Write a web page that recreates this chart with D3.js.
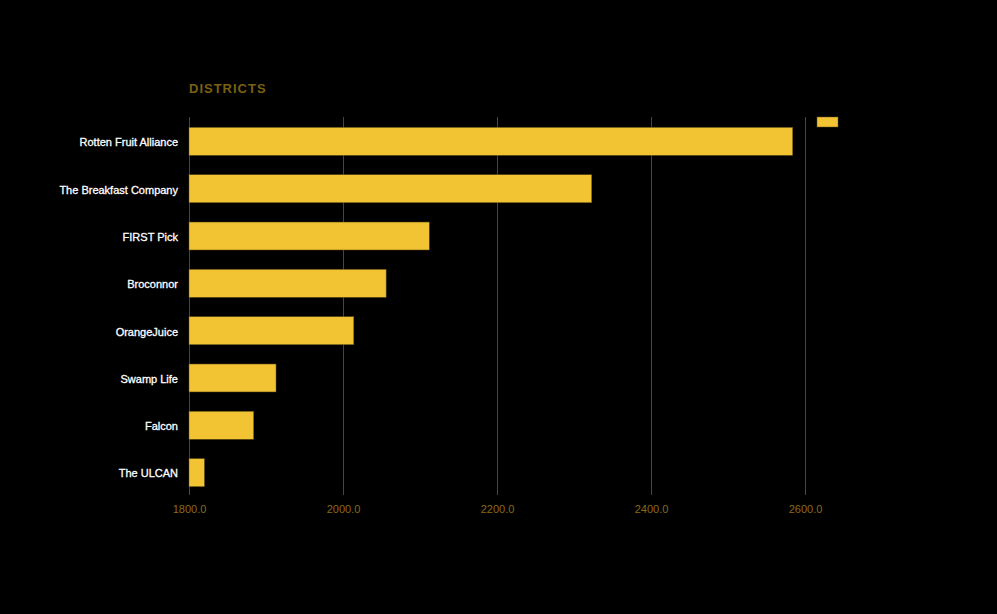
<!DOCTYPE html>
<html>
<head>
<meta charset="utf-8">
<script src="https://cdnjs.cloudflare.com/ajax/libs/d3/7.8.5/d3.min.js"></script>
<style>
  body { margin: 0; background: #000; }
  svg { display: block; }
</style>
</head>
<body>
<svg id="chart" width="997" height="614"></svg>
<script>
var districts = ["Rotten Fruit Alliance", "The Breakfast Company", "FIRST Pick", "Broconnor",
                 "OrangeJuice", "Swamp Life", "Falcon", "The ULCAN"];
var scores = [2584, 2323, 2112, 2056, 2014, 1913, 1884, 1820];
var xTicks = [1800, 2000, 2200, 2400, 2600];

var margin = {top: 117, left: 189},
    plotW = 770,
    plotH = 378;

var svg = d3.select("#chart");
svg.append("rect").attr("width", 997).attr("height", 614).attr("fill", "#000");

var g = svg.append("g").attr("transform", "translate(" + margin.left + "," + margin.top + ")");

var x = d3.scaleLinear().domain([1800, 2800]).range([0, plotW]);
var y = d3.scaleBand().domain(districts).range([0, 380]).paddingInner(0.41).paddingOuter(0.22);

// gridlines + tick labels
var xAxis = d3.axisBottom(x).tickValues(xTicks).tickSize(-plotH).tickPadding(10)
  .tickFormat(d3.format(".1f"));
var ax = g.append("g").attr("transform", "translate(0," + plotH + ")").call(xAxis);
ax.select(".domain").remove();
ax.selectAll("line").attr("stroke", "#574612").attr("stroke-width", 1);
ax.selectAll("text").attr("fill", "#8a6a14").style("font-family", "Liberation Sans, Arial, sans-serif")
  .style("font-size", "11px");

// bars
g.selectAll(".bar")
  .data(districts)
  .enter().append("rect")
    .attr("class", "bar")
    .attr("x", x(1800))
    .attr("y", function(d) { return y(d); })
    .attr("width", function(d, i) { return x(scores[i]) - x(1800); })
    .attr("height", y.bandwidth())
    .attr("fill", "#f2c434")
    .attr("stroke", "#6b5518")
    .attr("stroke-width", 0.5);

// category labels
g.selectAll(".lbl")
  .data(districts)
  .enter().append("text")
    .attr("x", -11)
    .attr("y", function(d) { return y(d) + y.bandwidth() / 2 + 1; })
    .attr("dy", "0.35em")
    .attr("text-anchor", "end")
    .attr("fill", "#fff")
    .attr("stroke", "#fff")
    .attr("stroke-width", 0.3)
    .style("font-family", "Liberation Sans, Arial, sans-serif")
    .style("font-size", "11px")
    .text(function(d) { return d; });

// title
svg.append("text")
  .attr("x", margin.left)
  .attr("y", 93)
  .attr("fill", "#7a6110")
  .style("font-family", "Liberation Sans, Arial, sans-serif")
  .style("font-size", "13px")
  .style("font-weight", "bold")
  .style("letter-spacing", "1px")
  .text("DISTRICTS");

// legend swatch
svg.append("rect")
  .attr("x", 817).attr("y", 117).attr("width", 21).attr("height", 10)
  .attr("fill", "#f2c434").attr("stroke", "#6b5518").attr("stroke-width", 0.5);
</script>
</body>
</html>
